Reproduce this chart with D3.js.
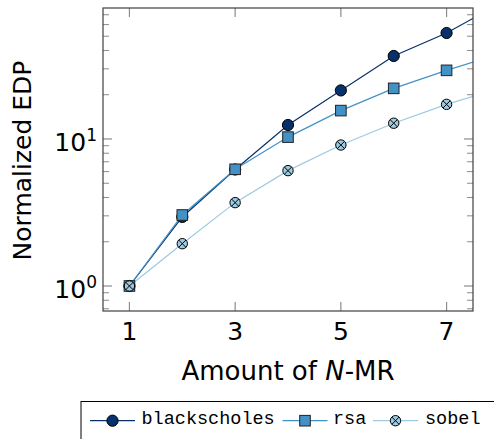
<!DOCTYPE html>
<html>
<head>
<meta charset="utf-8">
<script src="https://cdn.jsdelivr.net/npm/d3@7"></script>
<style>
  body { margin: 0; background: white; }
  svg { display: block; }
  text { font-family: "DejaVu Sans", sans-serif; fill: black; }
  .mono { font-family: "Liberation Mono", monospace; }
</style>
</head>
<body>
<div id="chart"></div>
<script>
const w = 494, h = 439

// data
const nmr = [1, 2, 3, 4, 5, 6, 7, 8]
const blackscholes = [1, 2.95, 6.2, 12.45, 21.4, 36.7, 52.6, 83]
const rsa = [1, 3.04, 6.22, 10.3, 15.6, 22.1, 29.3, 37.8]
const sobel = [1, 1.94, 3.69, 6.09, 9.1, 12.8, 17.2, 22.1]
const xTicks = [1, 3, 5, 7]
const yMajor = [1, 10]
const yMinor = [0.7, 0.8, 0.9, 2, 3, 4, 5, 6, 7, 8, 9, 20, 30, 40, 50, 60, 70]

const series = [
    {name: "blackscholes", values: blackscholes, color: "#08306b", line: "#08306b", marker: "circle"},
    {name: "rsa", values: rsa, color: "#4292c6", line: "#4292c6", marker: "square"},
    {name: "sobel", values: sobel, color: "#9ecae1", line: "#9ecae1", marker: "otimes"}
]

const pLeft = 103, pRight = 473, pTop = 8, pBottom = 311

//scales
const x = d3.scaleLinear().domain([0.5, 7.5]).range([pLeft, pRight])
const y = d3.scaleLog().domain([0.676, 77.8]).range([pBottom, pTop])

const svg = d3.select("#chart").append("svg")
    .attr("width", w)
    .attr("height", h)

svg.append("defs").append("clipPath").attr("id", "clip")
    .append("rect")
    .attr("x", pLeft).attr("y", pTop)
    .attr("width", pRight - pLeft).attr("height", pBottom - pTop)

// ticks, inward on all sides
const tickColor = "#8c8c8c"
const g = svg.append("g")
xTicks.forEach(t => {
    g.append("line").attr("x1", x(t)).attr("x2", x(t)).attr("y1", pBottom).attr("y2", pBottom - 9)
        .attr("stroke", tickColor).attr("stroke-width", 1.2)
    g.append("line").attr("x1", x(t)).attr("x2", x(t)).attr("y1", pTop).attr("y2", pTop + 9)
        .attr("stroke", tickColor).attr("stroke-width", 1.2)
})
yMajor.forEach(t => {
    g.append("line").attr("x1", pLeft).attr("x2", pLeft + 9).attr("y1", y(t)).attr("y2", y(t))
        .attr("stroke", tickColor).attr("stroke-width", 1.2)
    g.append("line").attr("x1", pRight).attr("x2", pRight - 9).attr("y1", y(t)).attr("y2", y(t))
        .attr("stroke", tickColor).attr("stroke-width", 1.2)
})
yMinor.forEach(t => {
    g.append("line").attr("x1", pLeft).attr("x2", pLeft + 6).attr("y1", y(t)).attr("y2", y(t))
        .attr("stroke", tickColor).attr("stroke-width", 1)
    g.append("line").attr("x1", pRight).attr("x2", pRight - 6).attr("y1", y(t)).attr("y2", y(t))
        .attr("stroke", tickColor).attr("stroke-width", 1)
})

// tick labels
svg.selectAll("text.xtick").data(xTicks).enter().append("text")
    .attr("class", "xtick")
    .attr("x", d => x(d)).attr("y", 340)
    .attr("text-anchor", "middle")
    .attr("font-size", 25)
    .text(d => d)

yMajor.forEach(t => {
    const txt = svg.append("text")
        .attr("x", 97).attr("y", y(t) + 12)
        .attr("text-anchor", "end")
        .attr("font-size", 25)
    txt.append("tspan").text("10")
    txt.append("tspan").attr("font-size", 17).attr("dy", -10).text(Math.round(Math.log10(t)))
})

// axis labels
const xl = svg.append("text")
    .attr("x", (pLeft + pRight) / 2).attr("y", 380)
    .attr("text-anchor", "middle")
    .attr("font-size", 26)
xl.append("tspan").text("Amount of ")
xl.append("tspan").attr("font-style", "italic").text("N")
xl.append("tspan").text("-MR")

svg.append("text")
    .attr("transform", "translate(31," + ((pTop + pBottom) / 2 + 1) + ") rotate(-90)")
    .attr("text-anchor", "middle")
    .attr("font-size", 25)
    .text("Normalized EDP")

// lines + markers
const line = d3.line().x((d, i) => x(nmr[i])).y(d => y(d))
const plot = svg.append("g").attr("clip-path", "url(#clip)")

function drawMarker(sel, type, color, cx, cy) {
    if (type == "circle") {
        sel.append("circle").attr("cx", cx).attr("cy", cy).attr("r", 5.6)
            .attr("fill", color).attr("stroke", "black").attr("stroke-width", 1)
    } else if (type == "square") {
        sel.append("rect").attr("x", cx - 5.3).attr("y", cy - 5.3).attr("width", 10.6).attr("height", 10.6)
            .attr("fill", color).attr("stroke", "#222").attr("stroke-width", 1)
    } else {
        const r = 5.2
        sel.append("circle").attr("cx", cx).attr("cy", cy).attr("r", r)
            .attr("fill", color).attr("stroke", "black").attr("stroke-width", 1)
        const k = r * 0.7071
        sel.append("path")
            .attr("d", "M" + (cx - k) + "," + (cy - k) + "L" + (cx + k) + "," + (cy + k) +
                "M" + (cx - k) + "," + (cy + k) + "L" + (cx + k) + "," + (cy - k))
            .attr("stroke", "black").attr("stroke-width", 1)
    }
}

series.forEach(s => {
    plot.append("path").datum(s.values)
        .attr("fill", "none").attr("stroke", s.line).attr("stroke-width", 1.2)
        .attr("d", line)
})
series.forEach(s => {
    const mg = plot.append("g")
    s.values.forEach((v, i) => drawMarker(mg, s.marker, s.color, x(nmr[i]), y(v)))
})

// frame
svg.append("rect")
    .attr("x", pLeft).attr("y", pTop).attr("width", pRight - pLeft).attr("height", pBottom - pTop)
    .attr("fill", "none").attr("stroke", "#404040").attr("stroke-width", 1.2)

// legend
const lg = svg.append("g")
lg.append("rect")
    .attr("x", 81).attr("y", 401.5).attr("width", 430).attr("height", 60)
    .attr("fill", "white").attr("stroke", "black").attr("stroke-width", 1)

const legendX = [90, 282.5, 373]
const legendTextX = [141.5, 333, 425]
series.forEach((s, i) => {
    const ly = 420.7
    lg.append("line").attr("x1", legendX[i]).attr("x2", legendX[i] + 45)
        .attr("y1", ly).attr("y2", ly)
        .attr("stroke", s.line).attr("stroke-width", 1.2)
    drawMarker(lg, s.marker, s.color, legendX[i] + 22.5, ly)
    lg.append("text").attr("class", "mono")
        .attr("x", legendTextX[i]).attr("y", 424)
        .attr("font-size", 18.5)
        .text(s.name)
})
</script>
</body>
</html>
